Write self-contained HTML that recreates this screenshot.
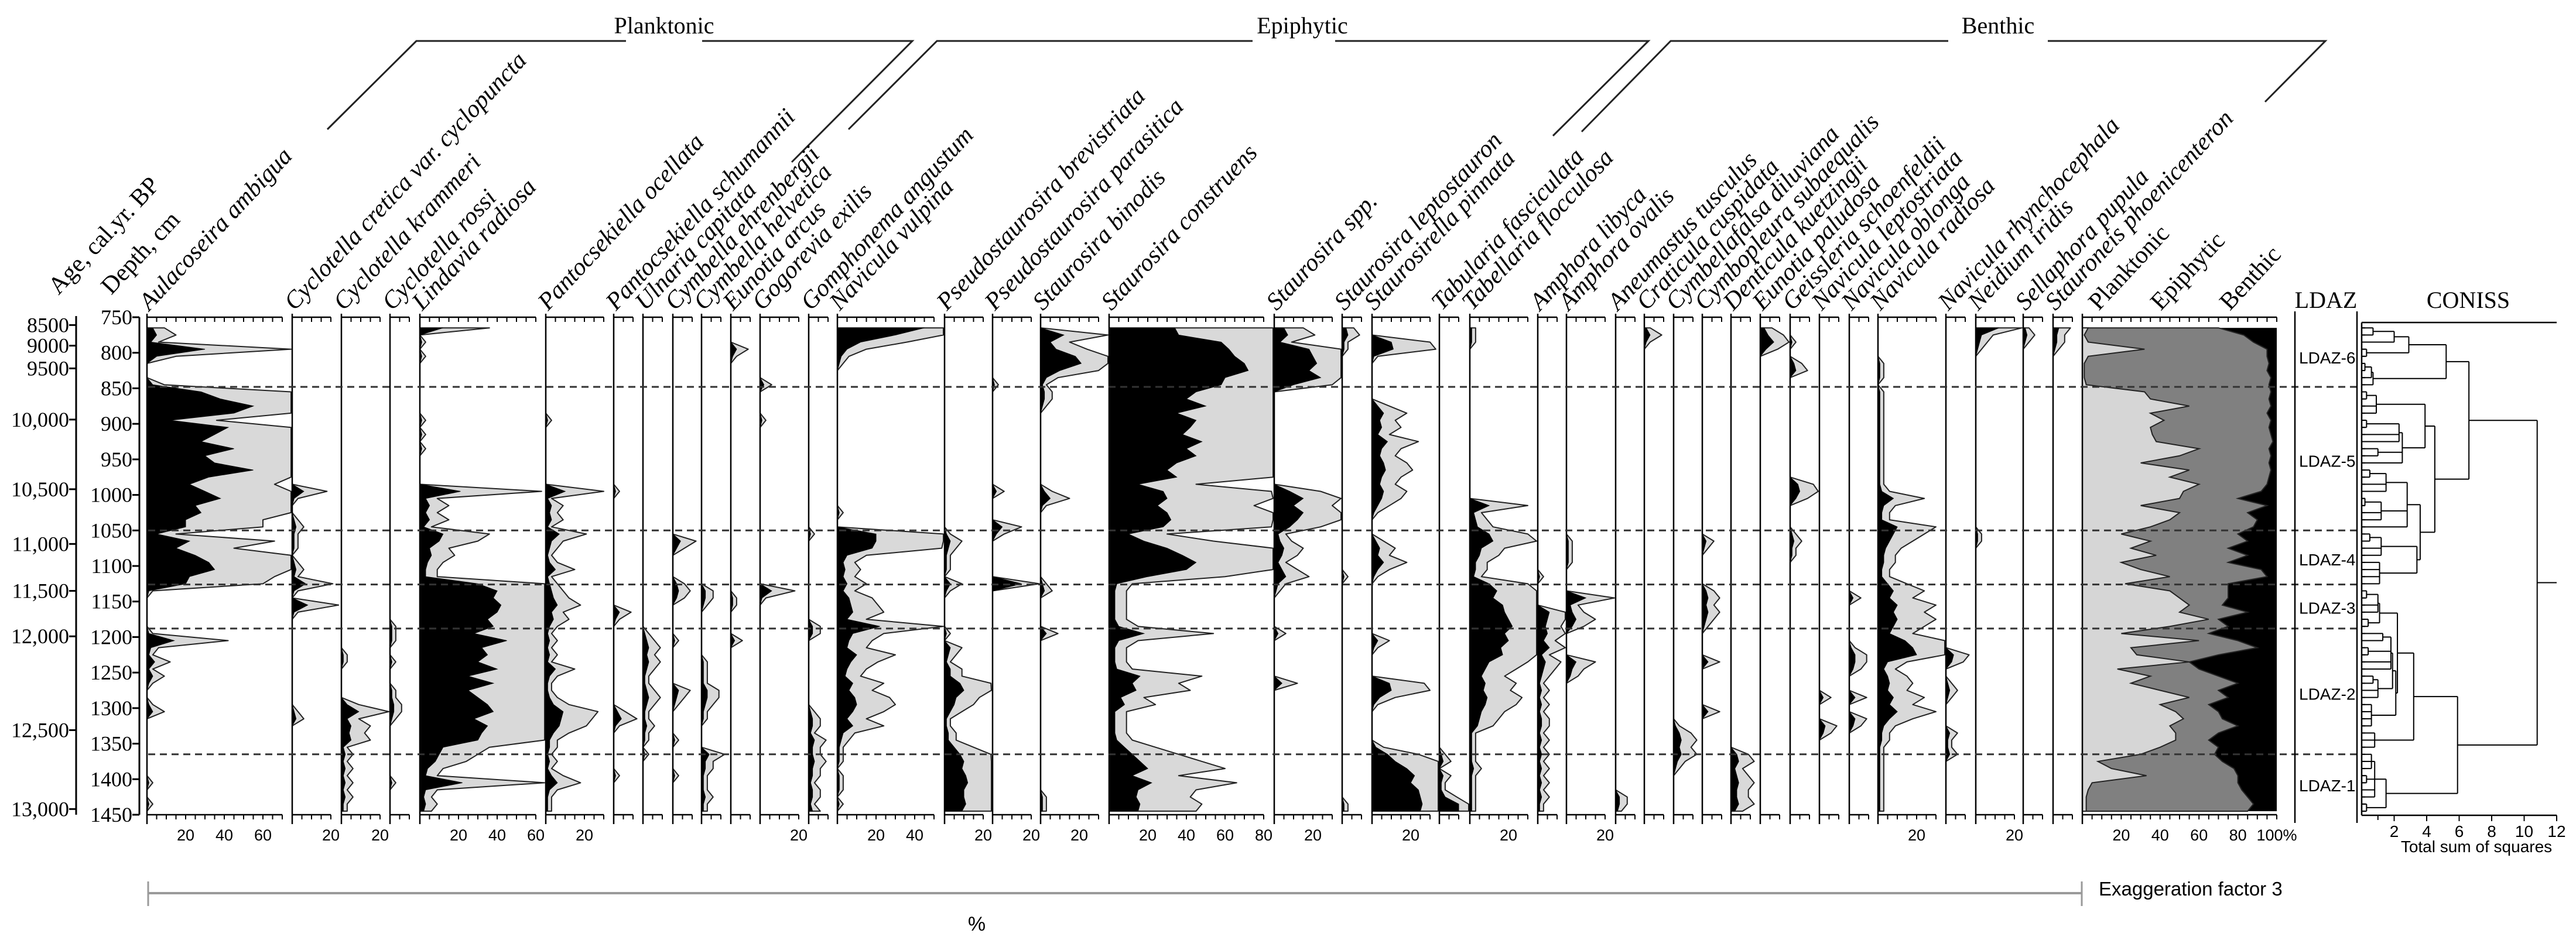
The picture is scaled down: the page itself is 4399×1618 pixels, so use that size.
<!DOCTYPE html>
<html>
<head>
<meta charset="utf-8">
<style>
html,body{margin:0;padding:0;background:#fff;}
svg{display:block;}
</style>
</head>
<body>
<svg id="chart" xmlns="http://www.w3.org/2000/svg" width="4399" height="1618" viewBox="0 0 4399 1618"></svg>
<script>
// ---------------- DATA ----------------
const depths = [765,775,785,795,805,815,825,835,845,855,865,875,885,895,905,915,925,935,945,955,965,975,985,995,1005,1015,1025,1035,1045,1055,1065,1075,1085,1095,1105,1115,1125,1135,1145,1155,1165,1175,1185,1195,1205,1215,1225,1235,1245,1255,1265,1275,1285,1295,1305,1315,1325,1335,1345,1355,1365,1375,1385,1395,1405,1415,1425,1435,1445];

const aulacoseira = [3,5,2,30,5,0,0,0,3,28, 38,55,45,12,42,35,28,45,30,35, 55,32,22,30,38,25,28,20,20,5, 22,15,25,32,35,22,20,1,0,0, 0,0,0,1,14,2,1,4,1,3, 1,0,0,1,3,0,0,0,0,0, 0,0,0,0,1,0,0,1,0];
const cretica = [0,0,0,0,0,0,0,0,0,0, 0,0,0,0,0,0,0,0,0,0, 0,0,0,6,1,0,0,1,2,1, 1,1,0,1,2,1,7,1,0,8, 1,0,0,0,0,0,0,0,0,0, 0,0,0,0,1,2,0,0,0,0, 0,0,0,0,0,0,0,0,0];
const krammeri = [0,0,0,0,0,0,0,0,0,0, 0,0,0,0,0,0,0,0,0,0, 0,0,0,0,0,0,0,0,0,0, 0,0,0,0,0,0,0,0,0,0, 0,0,0,0,0,0,1,1,0,0, 0,0,0,3,9,3,5,4,5,1, 2,1,2,1,2,1,2,1,1];
const rossii = [0,0,0,0,0,0,0,0,0,0, 0,0,0,0,0,0,0,0,0,0, 0,0,0,0,0,0,0,0,0,0, 0,0,0,0,0,0,0,0,0,0, 0,0,1,1,1,0,0,1,0,0, 0,1,1,2,2,1,0,0,0,0, 0,0,0,0,1,0,0,0,0];
const lindavia = [12,0,1,0,1,0,0,0,0,0, 0,0,0,1,0,1,0,1,0,0, 0,0,0,21,3,5,3,5,2,12, 10,5,6,4,3,3,30,40,38,42, 40,35,38,28,45,32,35,30,40,25, 38,25,30,35,38,28,35,32,30,12, 10,8,4,3,22,3,2,3,2];
const ocellata = [0,0,0,0,0,0,0,0,0,0, 0,0,0,1,0,0,0,0,0,0, 0,0,0,10,1,3,2,3,1,7, 3,2,1,2,5,1,2,3,4,6, 3,4,2,1,2,1,2,1,5,2, 1,1,2,4,9,8,7,4,2,2, 1,2,1,3,6,2,1,1,1];
const schumannii = [0,0,0,0,0,0,0,0,0,0, 0,0,0,0,0,0,0,0,0,0, 0,0,0,1,0,0,0,0,0,0, 0,0,0,0,0,0,0,0,0,0, 3,1,0,0,0,0,0,0,0,0, 0,0,0,0,2,4,1,0,0,0, 0,0,0,1,0,0,0,0,0];
const ulnaria = [0,0,0,0,0,0,0,0,0,0, 0,0,0,0,0,0,0,0,0,0, 0,0,0,0,0,0,0,0,0,0, 0,0,0,0,0,0,0,0,0,0, 0,0,0,1,2,3,2,3,2,1, 1,2,3,2,1,1,2,1,1,0, 1,0,0,0,0,0,0,0,0];
const ehrenbergii = [0,0,0,0,0,0,0,0,0,0, 0,0,0,0,0,0,0,0,0,0, 0,0,0,0,0,0,0,0,0,0, 4,2,0,0,0,0,2,3,2,0, 0,0,0,0,1,0,0,0,0,0, 0,3,2,1,0,0,0,0,1,0, 0,0,0,1,0,0,0,0,0];
const helvetica = [0,0,0,0,0,0,0,0,0,0, 0,0,0,0,0,0,0,0,0,0, 0,0,0,0,0,0,0,0,0,0, 0,0,0,0,0,0,0,2,2,1, 0,0,0,0,0,0,0,1,1,1, 1,3,3,2,1,1,0,0,0,0, 4,2,2,1,1,1,2,1,1];
const arcus = [0,0,0,3,1,0,0,0,0,0, 0,0,0,0,0,0,0,0,0,0, 0,0,0,0,0,0,0,0,0,0, 0,0,0,0,0,0,0,0,1,1, 0,0,0,0,2,0,0,0,0,0, 0,0,0,0,0,0,0,0,0,0, 0,0,0,0,0,0,0,0,0];
const gogorevia = [0,0,0,0,0,0,0,0,2,0, 0,0,0,1,0,0,0,0,0,0, 0,0,0,0,0,0,0,0,0,0, 0,0,0,0,0,0,0,6,1,0, 0,0,0,0,0,0,0,0,0,0, 0,0,0,0,0,0,0,0,0,0, 0,0,0,0,0,0,0,0,0];
const gomphonema = [0,0,0,0,0,0,0,0,0,0, 0,0,0,0,0,0,0,0,0,0, 0,0,0,0,0,0,0,0,0,1, 0,0,0,0,0,0,0,0,0,0, 0,0,2,2,0,0,0,0,0,0, 0,0,0,0,1,2,2,1,3,2, 2,3,2,2,1,2,2,1,2];
const nvulpina = [45,30,12,5,2,1,0,0,0,0, 0,0,0,0,0,0,0,0,0,0, 0,0,0,0,0,0,1,0,0,20, 20,18,5,3,4,3,5,3,6,7, 8,5,22,8,6,5,10,7,5,4, 8,6,9,10,8,5,8,3,2,1, 1,1,0,1,1,1,0,1,0];
const pbrevistriata = [0,0,0,0,0,0,0,0,0,0, 0,0,0,0,0,0,0,0,0,0, 0,0,0,0,0,0,0,0,0,1, 3,2,1,1,1,0,3,1,0,0, 0,0,0,1,0,3,2,1,3,3, 8,10,6,5,3,1,1,2,2,5, 8,10,9,11,12,10,10,11,9];
const pparasitica = [0,0,0,0,0,0,0,0,1,0, 0,0,0,0,0,0,0,0,0,0, 0,0,0,2,0,0,0,0,5,2, 0,0,0,0,0,0,15,0,0,0, 0,0,0,0,0,0,0,0,0,0, 0,0,0,0,0,0,0,0,0,0, 0,0,0,0,0,0,0,0,0];
const sbinodis = [0,12,5,8,18,21,10,3,1,2, 2,1,0,0,0,0,0,0,0,0, 0,0,0,2,5,1,0,0,0,0, 0,0,0,0,0,0,1,2,0,0, 0,0,0,3,0,0,0,0,0,0, 0,0,0,0,0,0,0,0,0,0, 0,0,0,0,0,0,1,1,1];
const sconstruens = [34,36,58,62,65,70,72,60,58,45, 40,50,35,45,42,38,48,40,45,35, 30,35,15,28,30,25,30,32,28,10, 18,30,38,45,40,20,4,3,3,3, 3,3,5,18,5,3,3,3,4,16, 12,14,6,8,3,3,3,3,4,8, 12,16,20,12,22,15,14,16,15];
const sspp = [5,7,3,18,20,22,18,24,10,0, 0,0,0,0,0,0,0,0,0,0, 0,0,0,8,15,10,15,12,8,2, 3,5,4,2,4,6,2,1,0,0, 0,0,0,2,0,0,0,0,0,0, 4,0,0,0,0,0,0,0,0,0, 0,0,0,0,0,0,0,0,0];
const sleptostauron = [2,3,1,1,0,0,0,0,0,0, 0,0,0,0,0,0,0,0,0,0, 0,0,0,0,0,0,0,0,0,0, 0,0,0,0,0,1,0,0,0,0, 0,0,0,0,0,0,0,0,0,0, 0,0,0,0,0,0,0,0,0,0, 0,0,0,0,0,0,0,1,1];
const spinnata = [0,0,10,11,1,0,0,0,0,0, 0,3,6,4,5,3,8,5,4,6, 7,5,4,6,5,3,1,0,0,0, 2,4,3,6,3,1,0,0,0,0, 0,0,0,0,3,1,0,0,0,0, 9,10,4,1,0,0,0,0,0,2, 8,12,18,22,20,24,25,26,25];
const tfasciculata = [0,0,0,0,0,0,0,0,0,0, 0,0,0,0,0,0,0,0,0,0, 0,0,0,0,0,0,0,0,0,0, 0,0,0,0,0,0,0,0,0,0, 0,0,0,0,0,0,0,0,0,0, 0,0,0,0,0,0,0,0,0,0, 1,2,0,2,1,1,3,10,10];
const tflocculosa = [1,1,1,0,0,0,0,0,0,0, 0,0,0,0,0,0,0,0,0,0, 0,0,0,0,0,10,2,3,4,10, 12,6,5,3,3,2,10,14,12,17, 18,20,22,18,20,16,17,10,8,6, 8,7,9,8,6,5,4,1,1,1, 1,1,2,1,1,1,1,1,1];
const alibyca = [0,0,0,0,0,0,0,0,0,0, 0,0,0,0,0,0,0,0,0,0, 0,0,0,0,0,0,0,0,0,0, 0,0,0,0,0,1,0,0,0,0, 6,5,4,5,3,6,2,4,3,2, 1,2,1,2,1,2,2,1,2,1, 2,1,2,1,2,1,2,1,1];
const aovalis = [0,0,0,0,0,0,0,0,0,0, 0,0,0,0,0,0,0,0,0,0, 0,0,0,0,0,0,0,0,0,0, 1,1,1,1,0,0,0,0,10,2, 3,5,3,0,0,0,0,5,3,2, 0,0,0,0,0,0,0,0,0,0, 0,0,0,0,0,0,0,0,0];
const atusculus = [0,0,0,0,0,0,0,0,0,0, 0,0,0,0,0,0,0,0,0,0, 0,0,0,0,0,0,0,0,0,0, 0,0,0,0,0,0,0,0,0,0, 0,0,0,0,0,0,0,0,0,0, 0,0,0,0,0,0,0,0,0,0, 0,0,0,0,0,0,2,2,1];
const ccuspidata = [1,3,1,0,0,0,0,0,0,0, 0,0,0,0,0,0,0,0,0,0, 0,0,0,0,0,0,0,0,0,0, 0,0,0,0,0,0,0,0,0,0, 0,0,0,0,0,0,0,0,0,0, 0,0,0,0,0,0,0,0,0,0, 0,0,0,0,0,0,0,0,0];
const cdiluviana = [0,0,0,0,0,0,0,0,0,0, 0,0,0,0,0,0,0,0,0,0, 0,0,0,0,0,0,0,0,0,0, 0,0,0,0,0,0,0,0,0,0, 0,0,0,0,0,0,0,0,0,0, 0,0,0,0,0,0,1,3,4,3, 4,2,1,0,0,0,0,0,0];
const csubaequalis = [0,0,0,0,0,0,0,0,0,0, 0,0,0,0,0,0,0,0,0,0, 0,0,0,0,0,0,0,0,0,0, 2,1,0,0,0,0,0,2,3,2, 3,2,1,0,0,0,0,3,0,0, 0,0,0,0,3,0,0,0,0,0, 0,0,0,0,0,0,0,0,0];
const dkuetzingii = [0,0,0,0,0,0,0,0,0,0, 0,0,0,0,0,0,0,0,0,0, 0,0,0,0,0,0,0,0,0,0, 0,0,0,0,0,0,0,0,0,0, 0,0,0,0,0,0,0,0,0,0, 0,0,0,0,0,0,0,0,0,0, 3,4,2,3,4,3,3,4,2];
const epaludosa = [2,4,7,3,0,0,0,0,0,0, 0,0,0,0,0,0,0,0,0,0, 0,0,0,0,0,0,0,0,0,0, 0,0,0,0,0,0,0,0,0,0, 0,0,0,0,0,0,0,0,0,0, 0,0,0,0,0,0,0,0,0,0, 0,0,0,0,0,0,0,0,0];
const gschoenfeldii = [0,0,1,0,0,2,3,0,0,0, 0,0,0,0,0,0,0,0,0,0, 0,0,4,5,3,0,0,0,0,1, 2,1,1,0,0,0,0,0,0,0, 0,0,0,0,0,0,0,0,0,0, 0,0,0,0,0,0,0,0,0,0, 0,0,0,0,0,0,0,0,0];
const nleptostriata = [0,0,0,0,0,0,0,0,0,0, 0,0,0,0,0,0,0,0,0,0, 0,0,0,0,0,0,0,0,0,0, 0,0,0,0,0,0,0,0,0,0, 0,0,0,0,0,0,0,0,0,0, 0,0,2,0,0,0,3,2,0,0, 0,0,0,0,0,0,0,0,0];
const noblonga = [0,0,0,0,0,0,0,0,0,0, 0,0,0,0,0,0,0,0,0,0, 0,0,0,0,0,0,0,0,0,0, 0,0,0,0,0,0,0,0,2,0, 0,0,0,0,0,1,3,3,2,0, 0,0,3,0,0,3,2,0,0,0, 0,0,0,0,0,0,0,0,0];
const nradiosa = [0,0,0,0,0,1,1,1,0,1, 1,1,1,1,1,1,1,1,1,1, 1,1,1,2,8,3,2,2,10,8, 6,4,3,3,2,2,5,8,6,10, 8,10,8,6,14,18,20,5,3,5, 6,5,8,6,10,6,3,2,2,1, 1,1,1,1,1,1,1,1,1];
const nrhynchocephala = [0,0,0,0,0,0,0,0,0,0, 0,0,0,0,0,0,0,0,0,0, 0,0,0,0,0,0,0,0,0,0, 0,0,0,0,0,0,0,0,0,0, 0,0,0,0,0,0,4,3,0,0, 1,2,1,0,0,0,0,2,1,1, 2,0,0,0,0,0,0,0,0];
const neidium = [12,3,2,1,0,0,0,0,0,0, 0,0,0,0,0,0,0,0,0,0, 0,0,0,0,0,0,0,0,0,1, 1,0,0,0,0,0,0,0,0,0, 0,0,0,0,0,0,0,0,0,0, 0,0,0,0,0,0,0,0,0,0, 0,0,0,0,0,0,0,0,0];
const spupula = [1,2,1,0,0,0,0,0,0,0, 0,0,0,0,0,0,0,0,0,0, 0,0,0,0,0,0,0,0,0,0, 0,0,0,0,0,0,0,0,0,0, 0,0,0,0,0,0,0,0,0,0, 0,0,0,0,0,0,0,0,0,0, 0,0,0,0,0,0,0,0,0];
const sphoenicenteron = [3,2,2,1,0,0,0,0,0,0, 0,0,0,0,0,0,0,0,0,0, 0,0,0,0,0,0,0,0,0,0, 0,0,0,0,0,0,0,0,0,0, 0,0,0,0,0,0,0,0,0,0, 0,0,0,0,0,0,0,0,0,0, 0,0,0,0,0,0,0,0,0];

// summary (%)
const planktonic = [3,1,3,32,3,1,1,1,2,32, 35,55,35,42,35,36,38,60,50,30, 55,45,60,52,50,30,50,45,35,20, 35,25,38,20,30,45,22,45,50,55, 50,65,45,20,60,25,28,55,18,35, 25,40,55,40,48,52,45,48,48,40, 30,8,15,33,5,3,2,2,2];
const epiphytic = [67,82,85,63,92,95,94,96,94,65, 61,42,60,55,61,61,60,36,47,66, 42,51,35,40,30,65,35,45,53,60, 50,50,47,55,62,50,53,30,25,17, 35,5,30,45,20,65,42,0,42,35, 55,30,20,25,22,20,35,22,17,30, 38,64,63,47,75,79,83,86,83];

const taxonNames = ["Aulacoseira ambigua","Cyclotella cretica var. cyclopuncta","Cyclotella krammeri","Cyclotella rossi","Lindavia radiosa","Pantocsekiella ocellata","Pantocsekiella schumannii","Ulnaria capitata","Cymbella ehrenbergii","Cymbella helvetica","Eunotia arcus","Gogorevia exilis","Gomphonema angustum","Navicula vulpina","Pseudostaurosira brevistriata","Pseudostaurosira parasitica","Staurosira binodis","Staurosira construens","Staurosira spp.","Staurosira leptostauron","Staurosirella pinnata","Tabularia fasciculata","Tabellaria flocculosa","Amphora libyca","Amphora ovalis","Aneumastus tusculus","Craticula cuspidata","Cymbellafalsa diluviana","Cymbopleura subaequalis","Denticula kuetzingii","Eunotia paludosa","Geissleria schoenfeldii","Navicula leptostriata","Navicula oblonga","Navicula radiosa","Navicula rhynchocephala","Neidium iridis","Sellaphora pupula","Stauroneis phoenicenteron"];
const taxonSeries = [aulacoseira,cretica,krammeri,rossii,lindavia,ocellata,schumannii,ulnaria,ehrenbergii,helvetica,arcus,gogorevia,gomphonema,nvulpina,pbrevistriata,pparasitica,sbinodis,sconstruens,sspp,sleptostauron,spinnata,tfasciculata,tflocculosa,alibyca,aovalis,atusculus,ccuspidata,cdiluviana,csubaequalis,dkuetzingii,epaludosa,gschoenfeldii,nleptostriata,noblonga,nradiosa,nrhynchocephala,neidium,spupula,sphoenicenteron];

const ageLabels = ["8500","9000","9500","10,000","10,500","11,000","11,500","12,000","12,500","13,000"];
const ageDepths = [761,790,822,894,992,1069,1135,1199,1331,1442];
const depthTicks = [750,800,850,900,950,1000,1050,1100,1150,1200,1250,1300,1350,1400,1450];
const zoneBounds = [848,1050,1126,1188,1365];
const zoneNames = ["LDAZ-6","LDAZ-5","LDAZ-4","LDAZ-3","LDAZ-2","LDAZ-1"];
const zoneLabelDepths = [807,952,1091,1159,1280,1409];
const conissNodes = [[0,1,0.7],[0,2,2.0],[3,4,0.3],[0,4,2.9],[5,6,0.2],[5,7,0.6],[5,8,0.7],[0,8,5.2],
 [9,10,0.3],[9,12,0.9],[13,14,0.3],[13,16,2.3],[17,18,1.0],[13,19,2.5],[9,19,3.9],
 [20,21,0.5],[20,23,1.5],[24,25,0.2],[24,27,1.2],[20,28,2.8],[29,30,0.5],[29,32,1.2],[33,36,1.1],[29,36,3.4],[20,36,3.6],[9,36,4.5],[0,36,6.6],
 [37,38,0.3],[37,40,1.0],[41,42,0.4],[37,42,1.1],[43,44,1.3],[45,46,0.4],[43,48,1.8],[49,50,0.7],[49,52,1.0],[43,52,1.9],[53,56,0.6],[43,56,2.1],[37,56,2.2],[57,59,0.8],[37,59,3.2],
 [60,62,0.6],[63,64,0.3],[60,66,0.8],[67,68,0.3],[60,68,1.5],[37,68,5.9],[0,68,10.8]];
const conissTicks = [2,4,6,8,10,12];

// ---------------- LAYOUT ----------------
const panelLeft = [251,499,583,666,717,932,1048,1098,1149,1198,1248,1298,1381,1430,1613,1695,1777,1894,2176,2292,2343,2458,2510,2626,2675,2759,2808,2858,2907,2956,3006,3057,3107,3158,3207,3323,3374,3455,3506];
const SUM_L = 3556, SUM_R = 3888;
const PX = 3.3;
const TOP = 542, BOT = 1392;
const LABEL_ROT = -47, LABEL_SIZE = 42;
function yD(d){ return TOP + (d-750)*1.2143; }

const NS='http://www.w3.org/2000/svg';
const svg=document.getElementById('chart');
function mk(tag, attrs, parent){
  const e=document.createElementNS(NS,tag);
  for(const k in attrs) e.setAttribute(k,attrs[k]);
  (parent||svg).appendChild(e);
  return e;
}
const SERIF='"Liberation Serif", serif';
const SANS='"Liberation Sans", sans-serif';

const groups = [
  {t:"Planktonic", tx:1134, l1:[[559,221],[711,70],[1069,70]], l2:[[1199,70],[1558,70],[1352,277]]},
  {t:"Epiphytic", tx:2224, l1:[[1449,221],[1600,70],[2139,70]], l2:[[2280,70],[2815,70],[2652,232]]},
  {t:"Benthic", tx:3412, l1:[[2701,225],[2853,70],[3327,70]], l2:[[3497,70],[3971,70],[3868,174]]}
];
groups.forEach(g=>{
  const gg=mk('g',{});
  
  
  const t=mk('text',{x:g.tx,y:57,'text-anchor':'middle','font-family':SERIF,'font-size':40},gg);
  t.textContent=g.t;
  [g.l1,g.l2].forEach(l=>{
    mk('polyline',{points:l.map(p=>p.join(',')).join(' '),fill:'none',stroke:'#222','stroke-width':3},gg);
  });
});

const at1=mk('text',{transform:'translate(100,505) rotate('+LABEL_ROT+')','font-family':SERIF,'font-size':42});
at1.textContent='Age, cal.yr. BP';


const at2=mk('text',{transform:'translate(190,505) rotate('+LABEL_ROT+')','font-family':SERIF,'font-size':42});
at2.textContent='Depth, cm';



const ageG=mk('g',{});


mk('line',{x1:130,y1:540,x2:130,y2:BOT,stroke:'#000','stroke-width':3},ageG);
ageLabels.forEach((lab,i)=>{
  const y=yD(ageDepths[i]);
  mk('line',{x1:118,y1:y,x2:130,y2:y,stroke:'#000','stroke-width':3},ageG);
  const t=mk('text',{x:118,y:y+12,'text-anchor':'end','font-family':SERIF,'font-size':36},ageG);
  t.textContent=lab;
});

const dG=mk('g',{});


mk('line',{x1:238,y1:TOP,x2:238,y2:BOT,stroke:'#000','stroke-width':3},dG);
depthTicks.forEach(d=>{
  const y=yD(d);
  mk('line',{x1:226,y1:y,x2:238,y2:y,stroke:'#000','stroke-width':3},dG);
  const t=mk('text',{x:226,y:y+12,'text-anchor':'end','font-family':SERIF,'font-size':36},dG);
  t.textContent=String(d);
});

function polyFor(x0, vals, mult, maxW){
  const pts=[[x0,yD(depths[0])]];
  const n=Math.min(vals.length, depths.length);
  for(let j=0;j<n;j++){
    pts.push([x0+Math.min(vals[j]*mult*PX,maxW), yD(depths[j])]);
  }
  pts.push([x0,yD(depths[n-1])]);
  return pts.map(p=>p[0].toFixed(1)+','+p[1].toFixed(1)).join(' ');
}
function drawAxis(g, x0, len, pxPer, y, labels, lastLabel){
  mk('line',{x1:x0,y1:y,x2:x0+len*pxPer,y2:y,stroke:'#000','stroke-width':2.5},g);
  for(let v=5; v<=len; v+=5){
    mk('line',{x1:x0+v*pxPer,y1:y,x2:x0+v*pxPer,y2:y+8,stroke:'#000','stroke-width':2},g);
  }
  if(labels){
    for(let v=20; v<=len; v+=20){
      const t=mk('text',{x:x0+v*pxPer,y:y+44,'text-anchor':'middle','font-family':SANS,'font-size':27},g);
      t.textContent=(lastLabel && v===100)?'100%':String(v);
    }
  }
}
taxonSeries.forEach((vals,i)=>{
  const x0=panelLeft[i];
  const xr=(i<panelLeft.length-1?panelLeft[i+1]:SUM_L)-2;
  const W=xr-x0;
  const axisMax=Math.max(5,Math.floor((W-10)/PX/5)*5);
  const g=mk('g',{});
  
  
  const ex=mk('polygon',{points:polyFor(x0,vals,3,W),fill:'#d9d9d9',stroke:'#222','stroke-width':2,'stroke-linejoin':'round'},g);
  
  
  const bl=mk('polygon',{points:polyFor(x0,vals,1,W),fill:'#000',stroke:'#000','stroke-width':1},g);
  
  
  mk('line',{x1:x0,y1:536,x2:x0,y2:1408,stroke:'#000','stroke-width':2.5},g);
  drawAxis(g,x0,axisMax,PX,TOP,false);
  drawAxis(g,x0,axisMax,PX,BOT,true);
  const t=mk('text',{transform:'translate('+(x0+4)+',532) rotate('+LABEL_ROT+')','font-family':SERIF,'font-style':'italic','font-size':LABEL_SIZE},g);
  t.textContent=taxonNames[i];
  
  
});

const SPX=(SUM_R-SUM_L)/100;
const sg=mk('g',{});


(function(){
  const n=depths.length;
  const y0=yD(depths[0]), y1=yD(depths[n-1]);
  const ben=mk('rect',{x:SUM_L,y:y0,width:SUM_R-SUM_L,height:y1-y0,fill:'#000'},sg);
  
  
  let pts=[[SUM_L,y0]];
  for(let j=0;j<n;j++) pts.push([SUM_L+(planktonic[j]+epiphytic[j])*SPX,yD(depths[j])]);
  pts.push([SUM_L,y1]);
  const ep=mk('polygon',{points:pts.map(p=>p.join(',')).join(' '),fill:'#808080',stroke:'#222','stroke-width':2},sg);
  
  
  pts=[[SUM_L,y0]];
  for(let j=0;j<n;j++) pts.push([SUM_L+planktonic[j]*SPX,yD(depths[j])]);
  pts.push([SUM_L,y1]);
  const pl=mk('polygon',{points:pts.map(p=>p.join(',')).join(' '),fill:'#d6d6d6',stroke:'#222','stroke-width':2},sg);
  
  
  mk('line',{x1:SUM_L,y1:536,x2:SUM_L,y2:1408,stroke:'#000','stroke-width':2.5},sg);
  drawAxis(sg,SUM_L,100,SPX,TOP,false);
  drawAxis(sg,SUM_L,100,SPX,BOT,true,true);
  const sl=[["Planktonic",3584],["Epiphytic",3690],["Benthic",3808]];
  sl.forEach(s=>{
    const t=mk('text',{transform:'translate('+s[1]+',532) rotate('+LABEL_ROT+')','font-family':SERIF,'font-size':42},sg);
    t.textContent=s[0];
  });
})();

const zg=mk('g',{});


zoneBounds.forEach(d=>{
  mk('line',{x1:253,y1:yD(d),x2:4025,y2:yD(d),stroke:'#333','stroke-width':3,'stroke-dasharray':'12 8'},zg);
});

const lg=mk('g',{});


mk('line',{x1:3919,y1:532,x2:3919,y2:1406,stroke:'#000','stroke-width':2.5},lg);
mk('line',{x1:4025,y1:532,x2:4025,y2:1406,stroke:'#000','stroke-width':2.5},lg);
const lt=mk('text',{x:3972,y:526,'text-anchor':'middle','font-family':SERIF,'font-size':40},lg);
lt.textContent='LDAZ';
zoneNames.forEach((z,i)=>{
  const t=mk('text',{x:3926,y:yD(zoneLabelDepths[i])+10,'font-family':SANS,'font-size':28},lg);
  t.textContent=z;
});

const CX0=4033, CPX=27.75;
const cg=mk('g',{});


const ct=mk('text',{x:4215,y:526,'text-anchor':'middle','font-family':SERIF,'font-size':40},cg);
ct.textContent='CONISS';
mk('line',{x1:CX0,y1:551,x2:4366,y2:551,stroke:'#000','stroke-width':2.5},cg);
mk('line',{x1:CX0,y1:551,x2:CX0,y2:1393,stroke:'#000','stroke-width':2.5},cg);
mk('line',{x1:CX0,y1:1393,x2:4366,y2:1393,stroke:'#000','stroke-width':2.5},cg);
conissTicks.forEach(v=>{
  const x=CX0+v*CPX;
  mk('line',{x1:x,y1:1393,x2:x,y2:1403,stroke:'#000','stroke-width':2},cg);
  const t=mk('text',{x:x,y:1430,'text-anchor':'middle','font-family':SANS,'font-size':28},cg);
  t.textContent=String(v);
});
mk('line',{x1:CX0+CPX,y1:1393,x2:CX0+CPX,y2:1401,stroke:'#000','stroke-width':2},cg);
const tss=mk('text',{x:4229,y:1456,'text-anchor':'middle','font-family':SANS,'font-size':28},cg);
tss.textContent='Total sum of squares';
(function(){
  const sorted=conissNodes.slice().sort((a,b)=>(a[1]-a[0])-(b[1]-b[0]));
  const info={};
  function key(n){return n[0]+'-'+n[1];}
  sorted.forEach(nd=>{
    const [s,e,h]=nd;
    const children=[];
    let i=s;
    while(i<=e){
      let best=null;
      sorted.forEach(c=>{
        if(c[0]===i && c[1]<=e && !(c[0]===s&&c[1]===e)){
          if(!best || (c[1]-c[0])>(best[1]-best[0])) best=c;
        }
      });
      if(best){ const inf=info[key(best)]; children.push({x:CX0+best[2]*CPX,y:inf.y}); i=best[1]+1; }
      else { children.push({x:CX0+1,y:yD(depths[i])}); mk('line',{x1:CX0,y1:yD(depths[i]),x2:CX0+6,y2:yD(depths[i]),stroke:'#000','stroke-width':2},cg); i++; }
    }
    const hx=CX0+h*CPX;
    children.forEach(c=>mk('line',{x1:c.x,y1:c.y,x2:hx,y2:c.y,stroke:'#000','stroke-width':2},cg));
    const ys=children.map(c=>c.y);
    const ya=Math.min(...ys), yb=Math.max(...ys);
    mk('line',{x1:hx,y1:ya,x2:hx,y2:yb,stroke:'#000','stroke-width':2},cg);
    info[key(nd)]={y:(ya+yb)/2};
  });
  const root=conissNodes[conissNodes.length-1];
  const ry=info[key(root)].y;
  mk('line',{x1:CX0+root[2]*CPX,y1:ry,x2:4366,y2:ry,stroke:'#000','stroke-width':2},cg);
})();

const bg=mk('g',{});


mk('line',{x1:253,y1:1526,x2:3555,y2:1526,stroke:'#9a9a9a','stroke-width':4},bg);
mk('line',{x1:253,y1:1506,x2:253,y2:1548,stroke:'#9a9a9a','stroke-width':3},bg);
mk('line',{x1:3555,y1:1506,x2:3555,y2:1548,stroke:'#9a9a9a','stroke-width':3},bg);
const pc=mk('text',{x:1668,y:1590,'text-anchor':'middle','font-family':SANS,'font-size':34},bg);
pc.textContent='%';
const exf=mk('text',{x:3584,y:1530,'font-family':SANS,'font-size':33});
exf.textContent='Exaggeration factor 3';


</script>
</body>
</html>
